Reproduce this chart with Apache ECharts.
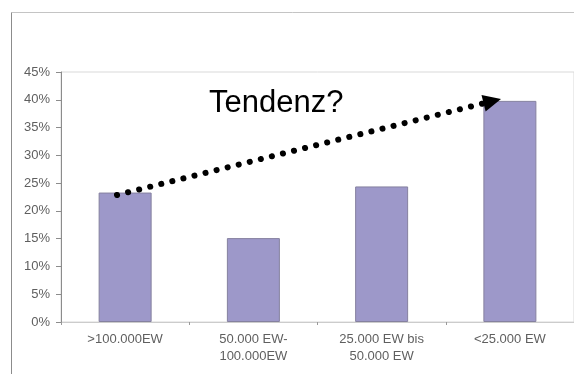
<!DOCTYPE html>
<html>
<head>
<meta charset="utf-8">
<script src="https://cdn.jsdelivr.net/npm/echarts@6/dist/echarts.min.js"></script>
<style>
html,body{margin:0;padding:0;background:#fff;}
#c{width:574px;height:374px;}
</style>
</head>
<body>
<div id="c"></div>
<script>
var categories = ['>100.000EW', '50.000 EW-\n100.000EW', '25.000 EW bis\n50.000 EW', '<25.000 EW'];
var shares = [23.3, 15.1, 24.4, 39.8];
var yTicks = {min: 0, max: 45, interval: 5};
var annotation = 'Tendenz?';

var chart = echarts.init(document.getElementById('c'), null, {renderer: 'canvas'});
var font = '"Liberation Sans", Arial, sans-serif';

// trend arrow (annotation), pixel positions
var arrowStart = [117, 195];
var arrowTip = [501, 99];
var dx = arrowTip[0] - arrowStart[0], dy = arrowTip[1] - arrowStart[1];
var len = Math.sqrt(dx * dx + dy * dy);
var headLen = 18;
var arrowEnd = [arrowTip[0] - dx / len * headLen / 2, arrowTip[1] - dy / len * headLen / 2];

chart.setOption({
  animation: false,
  backgroundColor: '#fff',
  textStyle: {fontFamily: font},
  grid: {
    left: 61, top: 72, width: 514, height: 250,
    show: true, borderColor: '#d9d9d9', borderWidth: 1, backgroundColor: 'transparent'
  },
  xAxis: {
    type: 'category',
    data: categories,
    axisLine: {show: true, lineStyle: {color: '#cccccc', width: 1}},
    axisTick: {show: true, length: 3, alignWithLabel: false, lineStyle: {color: '#999'}},
    axisLabel: {color: '#5f5f5f', fontSize: 13, fontFamily: font, lineHeight: 17, margin: 9, interval: 0},
    splitLine: {show: false}
  },
  yAxis: {
    type: 'value',
    min: yTicks.min, max: yTicks.max, interval: yTicks.interval,
    axisLine: {show: true, lineStyle: {color: '#8c8c8c', width: 1}},
    axisTick: {show: true, length: 5, lineStyle: {color: '#8c8c8c'}},
    axisLabel: {color: '#5f5f5f', fontSize: 13, fontFamily: font, margin: 11, formatter: '{value}%'},
    splitLine: {show: false}
  },
  series: [{
    type: 'bar',
    data: shares,
    barWidth: 53,
    itemStyle: {color: '#9d98c9', borderColor: '#85819f', borderWidth: 1},
    emphasis: {disabled: true},
    markLine: {
      silent: true,
      symbol: ['none', 'triangle'],
      symbolSize: [17, headLen],
      label: {show: false},
      lineStyle: {color: '#000', width: 6, type: [0.1, 11.3], cap: 'round'},
      emphasis: {disabled: true},
      data: [[{x: arrowStart[0], y: arrowStart[1]}, {x: arrowEnd[0], y: arrowEnd[1]}]]
    }
  }],
  graphic: [
    {type: 'line', shape: {x1: 11.5, y1: 12.5, x2: 574, y2: 12.5}, style: {stroke: '#c4c4c4', lineWidth: 1}, silent: true},
    {type: 'line', shape: {x1: 11.5, y1: 12.5, x2: 11.5, y2: 374}, style: {stroke: '#8c8c8c', lineWidth: 1}, silent: true},
    {type: 'text', x: 209, y: 103, silent: true,
     style: {text: annotation, font: '31px ' + font, fill: '#000', verticalAlign: 'middle', align: 'left'}}
  ]
});
</script>
</body>
</html>
